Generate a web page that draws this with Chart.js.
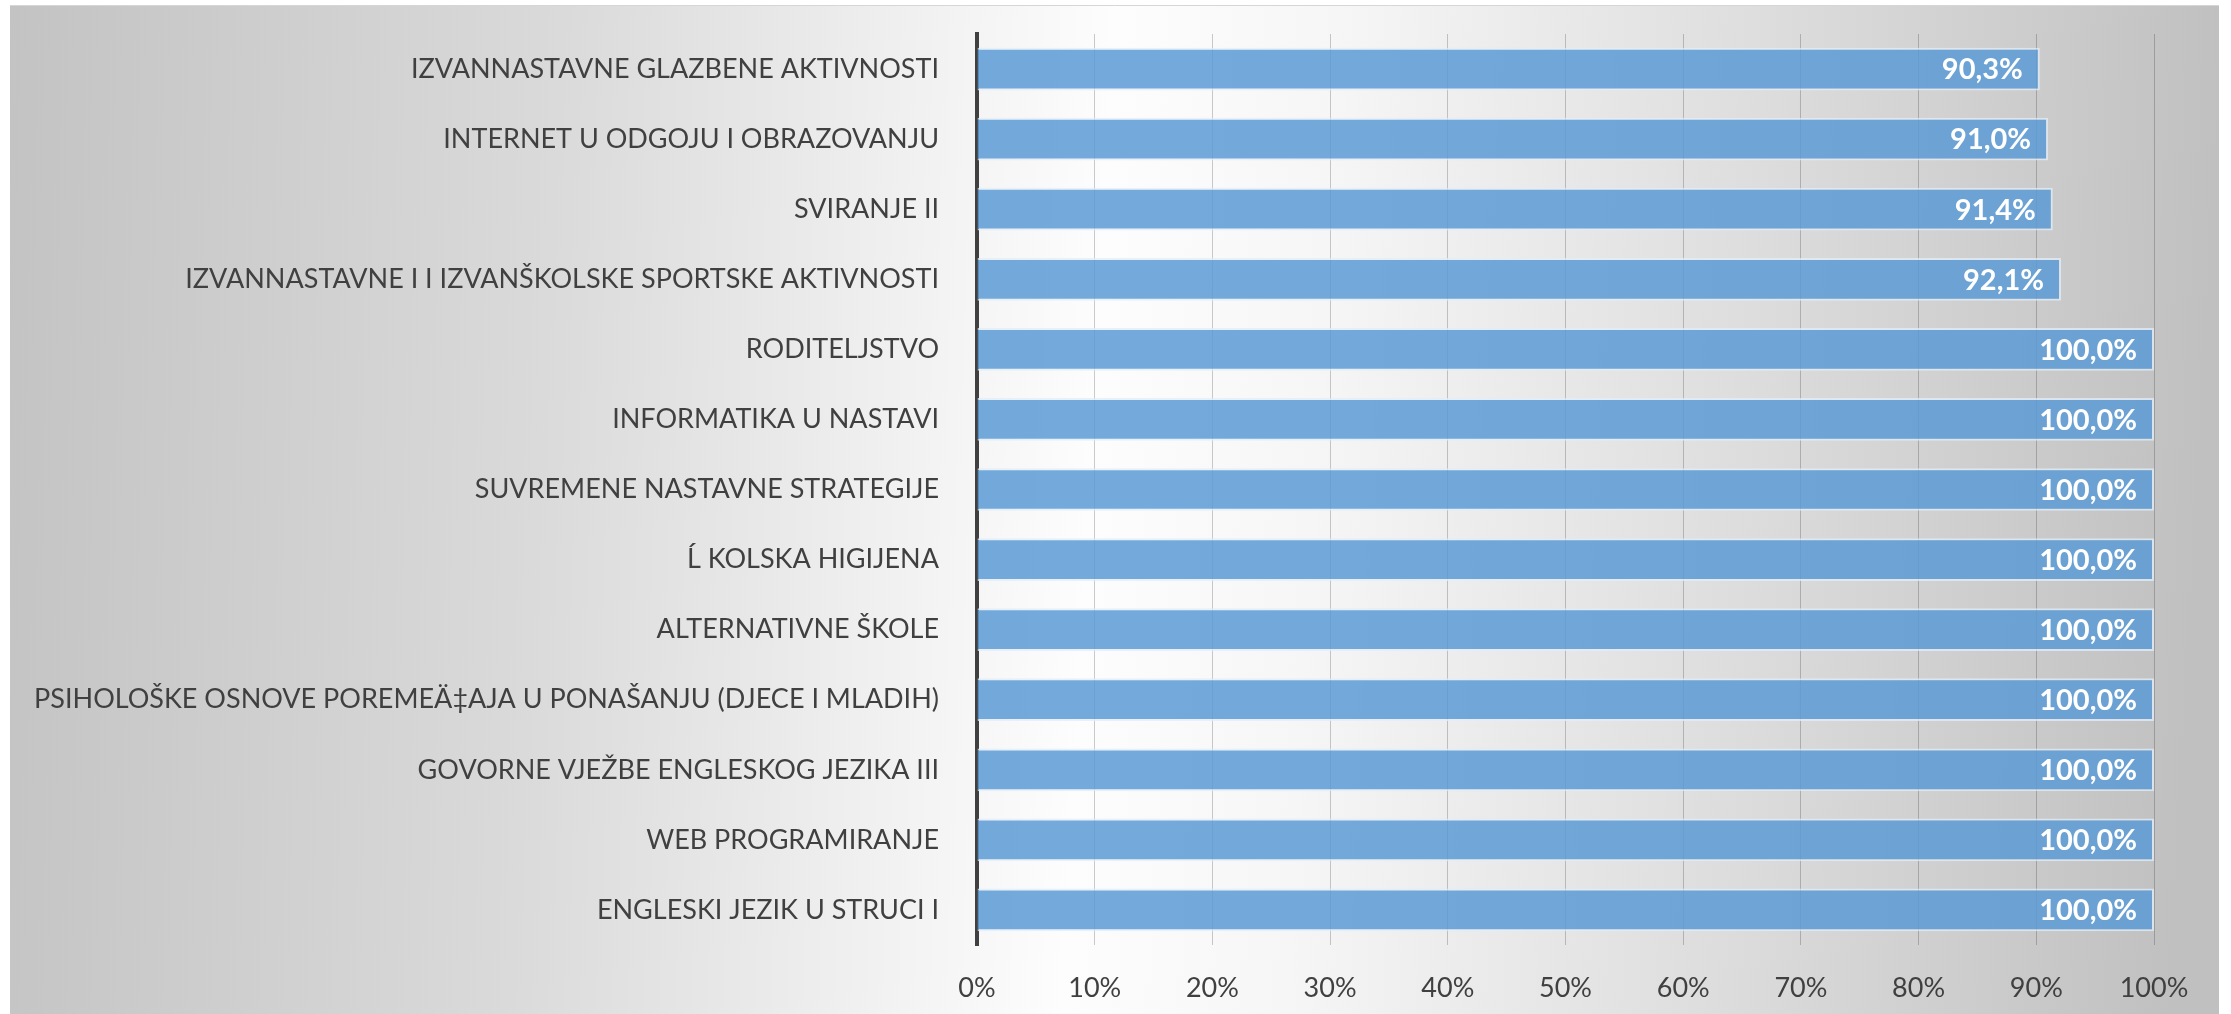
<!DOCTYPE html>
<html>
<head>
<meta charset="utf-8">
<script src="https://cdn.jsdelivr.net/npm/chart.js@4.4.1/dist/chart.umd.min.js"></script>
<style>
    html, body { margin: 0; padding: 0; background: #fff; }
    #wrap { width: 2231px; height: 1014px; }
</style>
</head>
<body>
<div id="wrap"><canvas id="courseChart" width="2231" height="1014"></canvas></div>
<script>
const courseLabels = [
    'IZVANNASTAVNE GLAZBENE AKTIVNOSTI',
    'INTERNET U ODGOJU I OBRAZOVANJU',
    'SVIRANJE II',
    'IZVANNASTAVNE I I IZVANŠKOLSKE SPORTSKE AKTIVNOSTI',
    'RODITELJSTVO',
    'INFORMATIKA U NASTAVI',
    'SUVREMENE NASTAVNE STRATEGIJE',
    'Ĺ KOLSKA HIGIJENA',
    'ALTERNATIVNE ŠKOLE',
    'PSIHOLOŠKE OSNOVE POREMEÄ‡AJA U PONAŠANJU (DJECE I MLADIH)',
    'GOVORNE VJEŽBE ENGLESKOG JEZIKA III',
    'WEB PROGRAMIRANJE',
    'ENGLESKI JEZIK U STRUCI I'
];
const passRates = [90.3, 91.0, 91.4, 92.1, 100, 100, 100, 100, 100, 100, 100, 100, 100];
const axisMin = 0;
const axisMax = 100;
const axisStep = 10;

const FONT = 'Lato, "Open Sans", sans-serif';

function formatPct(v) {
    return v.toFixed(1).replace('.', ',') + '%';
}

// gradient backdrop like the office chart area
const backdrop = {
    id: 'backdrop',
    beforeDraw(chart) {
        const ctx = chart.ctx;
        const w = chart.width, h = chart.height;
        ctx.save();
        ctx.fillStyle = '#ffffff';
        ctx.fillRect(0, 0, w, h);
        const x0 = 10, y0 = 5, x1 = 2219, y1 = h;
        const g = ctx.createLinearGradient(x0, 0, x1, 120);
        g.addColorStop(0, '#c3c3c3');
        g.addColorStop(0.25, '#dadada');
        g.addColorStop(0.5, '#fdfdfd');
        g.addColorStop(0.6, '#f6f6f6');
        g.addColorStop(0.8, '#dcdcdc');
        g.addColorStop(1, '#c0c0c0');
        ctx.fillStyle = g;
        ctx.fillRect(x0, y0, x1 - x0, y1 - y0);
        ctx.strokeStyle = '#d6d6d6';
        ctx.lineWidth = 1;
        ctx.beginPath();
        ctx.moveTo(x0, y0 + 0.5);
        ctx.lineTo(x1, y0 + 0.5);
        ctx.stroke();
        ctx.restore();
    }
};

const valueLabels = {
    id: 'valueLabels',
    afterDatasetsDraw(chart) {
        const ctx = chart.ctx;
        const meta = chart.getDatasetMeta(0);
        ctx.save();
        ctx.fillStyle = '#ffffff';
        ctx.font = 'bold 29px ' + FONT;
        ctx.textAlign = 'right';
        ctx.textBaseline = 'middle';
        meta.data.forEach((bar, i) => {
            ctx.fillText(formatPct(passRates[i]), bar.x - 17, bar.y + 1);
        });
        ctx.restore();
    }
};

new Chart(document.getElementById('courseChart'), {
    type: 'bar',
    data: {
        labels: courseLabels,
        datasets: [{
            data: passRates,
            backgroundColor: 'rgba(91, 155, 213, 0.85)',
            borderColor: 'rgba(225, 237, 248, 0.75)',
            borderWidth: 2,
            categoryPercentage: 1,
            barPercentage: 0.61
        }]
    },
    options: {
        indexAxis: 'y',
        responsive: false,
        animation: false,
        layout: { padding: { top: 34, right: 77, left: 0, bottom: 0 } },
        plugins: {
            legend: { display: false },
            tooltip: { enabled: false }
        },
        scales: {
            x: {
                min: axisMin,
                max: axisMax,
                border: { display: false },
                grid: {
                    color: 'rgba(0, 0, 0, 0.2)',
                    lineWidth: 1,
                    drawTicks: false
                },
                ticks: {
                    stepSize: axisStep,
                    padding: 27,
                    color: '#404040',
                    font: { family: FONT, size: 27 },
                    callback: v => v + '%'
                },
                afterFit(scale) { scale.height = 1014 - 945; }
            },
            y: {
                z: 1,
                border: { display: true, color: '#404040', width: 4 },
                grid: { display: false, drawTicks: false },
                ticks: {
                    padding: 38,
                    color: '#404040',
                    font: { family: FONT, size: 27 }
                },
                afterFit(scale) {
                    scale.width = 977;
                    scale.paddingTop = 0;
                    scale.paddingBottom = 0;
                }
            }
        }
    },
    plugins: [backdrop, valueLabels]
});
</script>
</body>
</html>
